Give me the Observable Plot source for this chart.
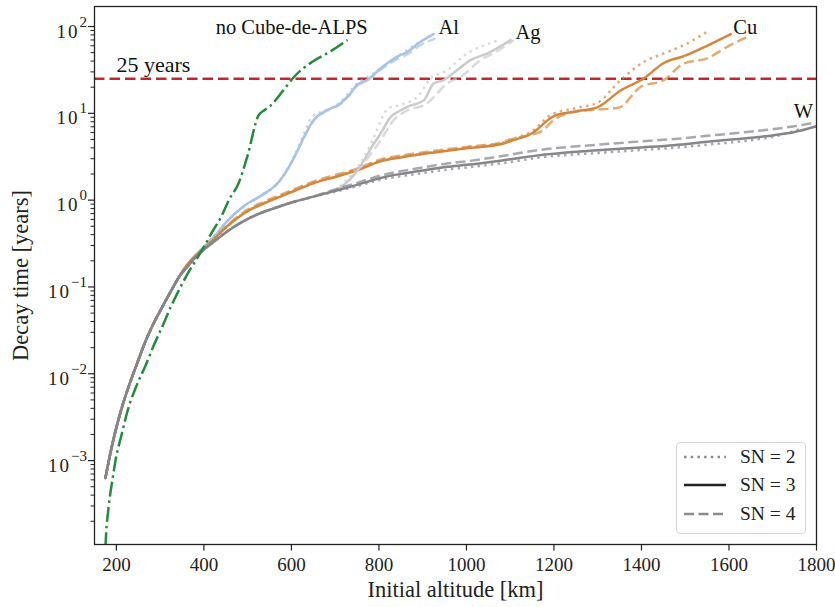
<!DOCTYPE html>
<html><head><meta charset="utf-8">
<script src="https://cdn.jsdelivr.net/npm/d3@7"></script>
<script src="https://cdn.jsdelivr.net/npm/@observablehq/plot@0.6"></script>
<style>
html,body{margin:0;padding:0;background:#fff;}
#wrap{position:relative;width:835px;height:607px;font-family:"Liberation Serif","Times New Roman",serif;}
#legend{position:absolute;left:676px;top:442px;width:128px;height:90px;border:1px solid #d6d6d6;border-radius:4px;background:rgba(255,255,255,0.85);}
.row{position:absolute;left:0;height:28px;width:100%;}
.row svg{position:absolute;left:6px;top:0;}
.row span{position:absolute;left:63px;top:0;font-size:19.5px;color:#222;line-height:28px;white-space:nowrap;}
</style></head>
<body><div id="wrap"></div>
<script>
// ---------- data (altitude km, decay time years) ----------
const lowBase = [[175,6.3e-4],[186,1.2e-3],[198,2.2e-3],[212,4.0e-3],[228,7.1e-3],[247,1.3e-2],[267,2.4e-2],[285,3.8e-2],[305,5.9e-2],[325,9.0e-2],[343,0.13]];

const W_mid = [[362,0.17],[381,0.22],[400,0.27],[419,0.32],[457,0.45],[495,0.59],[533,0.72],[571,0.84],[610,0.97],[648,1.09]];
const W_SN3 = [[700,1.28],[750,1.5],[804,1.8],[849,2.0],[900,2.2],[956,2.42],[1000,2.55],[1078,2.85],[1169,3.3],[1300,3.75],[1400,4.05],[1474,4.3],[1550,4.7],[1627,5.1],[1703,5.6],[1750,6.1],[1800,7.1]];
const W_SN4 = [[700,1.33],[750,1.58],[804,1.92],[849,2.15],[900,2.38],[956,2.65],[1000,2.8],[1078,3.2],[1169,3.8],[1300,4.35],[1400,4.75],[1474,5.05],[1550,5.5],[1627,6.0],[1703,6.6],[1750,7.1],[1790,7.7]];
const W_SN2 = [[700,1.25],[750,1.45],[804,1.72],[849,1.88],[900,2.05],[956,2.25],[1000,2.38],[1078,2.65],[1169,3.1],[1300,3.5],[1400,3.78],[1474,4.0],[1550,4.35],[1627,4.75],[1703,5.4],[1760,6.5]];

const Cu_SN3 = [[362,0.18],[381,0.23],[404,0.29],[419,0.34],[457,0.52],[495,0.72],[540,0.93],[575,1.1],[610,1.3],[648,1.55],[700,1.85],[750,2.2],[804,2.8],[849,3.1],[900,3.4],[956,3.7],[1000,3.95],[1078,4.4],[1101,4.8],[1150,5.9],[1200,9.3],[1250,10.5],[1299,11.7],[1352,18.3],[1405,25.2],[1451,38],[1497,45.6],[1550,60],[1604,81.7]];
const Cu_SN4 = [[362,0.18],[381,0.23],[404,0.29],[419,0.34],[457,0.53],[495,0.75],[540,0.97],[575,1.15],[610,1.36],[648,1.62],[700,1.95],[750,2.3],[804,2.95],[849,3.25],[900,3.55],[956,3.85],[1000,4.1],[1078,4.6],[1101,5.0],[1150,5.7],[1169,6.1],[1200,8.4],[1246,10.4],[1349,11.7],[1398,20.2],[1451,24.1],[1497,37.6],[1550,42.9],[1596,58.3],[1642,76]];
const Cu_SN2 = [[362,0.18],[381,0.23],[404,0.29],[419,0.34],[457,0.52],[495,0.73],[540,0.94],[575,1.12],[610,1.32],[648,1.57],[700,1.88],[750,2.25],[804,2.85],[849,3.15],[900,3.45],[956,3.75],[1000,4.0],[1078,4.5],[1101,5.0],[1150,6.2],[1192,9.5],[1250,11.5],[1299,13.2],[1352,24],[1405,39],[1451,49],[1497,61],[1550,87]];

const Al_SN3 = [[362,0.18],[381,0.23],[400,0.29],[419,0.36],[457,0.6],[495,0.88],[530,1.12],[571,1.62],[600,2.7],[615,3.8],[630,5.5],[651,8.4],[674,10.4],[712,13],[735,17],[750,21.1],[773,24.1],[804,32.9],[842,44.9],[865,51.1],[895,66.6],[925,81.7]];
const Al_SN2 = [[362,0.18],[381,0.23],[400,0.29],[419,0.36],[457,0.6],[495,0.88],[530,1.12],[571,1.62],[600,2.75],[615,4.0],[630,6.0],[642,8.3],[652,9.6],[667,10.3],[682,11],[712,13.5],[750,22],[773,26],[804,33],[842,45],[880,60],[920,80]];
const Al_SN4 = [[362,0.18],[381,0.23],[400,0.29],[419,0.36],[457,0.6],[495,0.88],[530,1.12],[571,1.62],[600,2.7],[615,3.8],[630,5.4],[651,8.2],[674,10.2],[712,12.8],[735,16.8],[750,20.8],[773,24],[804,32],[842,42],[865,48],[895,61],[929,73]];

const Ag_SN3 = [[700,1.28],[712,1.4],[745,2.0],[766,2.89],[785,4.2],[804,5.86],[827,9.1],[845,10.5],[865,11.9],[903,14.2],[925,22.1],[948,24.1],[979,31.5],[1009,41],[1048,49],[1101,69.7]];
const Ag_SN2 = [[700,1.28],[712,1.45],[745,2.2],[766,3.1],[790,5.5],[810,9.5],[822,11.5],[850,12.5],[890,16],[918,25.2],[950,30],[1002,49],[1063,66.6],[1075,70]];
const Ag_SN4 = [[700,1.28],[712,1.4],[766,2.7],[804,4.9],[834,8.4],[860,10.5],[910,13],[956,22.1],[990,27],[1032,41],[1070,52],[1108,69.7]];

const noCube = [[175,1.0e-4],[177,1.6e-4],[180,2.3e-4],[185,3.8e-4],[191,6.0e-4],[198,1.0e-3],[212,2.0e-3],[226,3.8e-3],[247,7.5e-3],[267,1.25e-2],[285,2.1e-2],[305,3.5e-2],[325,6.0e-2],[343,9.2e-2],[362,0.14],[381,0.2],[400,0.29],[419,0.43],[440,0.65],[457,1.0],[480,1.6],[499,3.15],[525,9.5],[540,11],[552,12.2],[580,18],[605,26],[647,39],[690,52],[728,70]];

const limitYears = [25];
const xTicks = [200,400,600,800,1000,1200,1400,1600,1800];
const yTicks = [1e-3,1e-2,1e-1,1,10,100];
const snLabels = ["SN = 2","SN = 3","SN = 4"];
const annotations = [
  {label:"no Cube-de-ALPS", x:427, y:98},
  {label:"Al", x:936, y:98},
  {label:"Ag", x:1112, y:86},
  {label:"Cu", x:1610, y:98},
  {label:"W", x:1748, y:10.6}
];
const limitLabel = [{label:"25 years", x:200, y:36}];

// ---------- styles ----------
const FONT = '"Liberation Serif", "Times New Roman", serif';
const colors = {Al:"#a9c3e2", Ag:"#cbcbcb", Cu:"#d4873c", W:"#85858a", none:"#238b3c", limit:"#c1272d"};
const dashes = {2:"2.5,4.2", 3:null, 4:"10,4.5"};
const opac = {2:0.7, 3:1, 4:0.7};

const series = [
  {m:"Al", sn:2, pts: lowBase.concat(Al_SN2)},
  {m:"Al", sn:3, pts: lowBase.concat(Al_SN3)},
  {m:"Al", sn:4, pts: lowBase.concat(Al_SN4)},
  {m:"Cu", sn:2, pts: lowBase.concat(Cu_SN2)},
  {m:"Cu", sn:3, pts: lowBase.concat(Cu_SN3)},
  {m:"Cu", sn:4, pts: lowBase.concat(Cu_SN4)},
  {m:"Ag", sn:2, pts: Ag_SN2},
  {m:"Ag", sn:3, pts: Ag_SN3},
  {m:"Ag", sn:4, pts: Ag_SN4},
  {m:"W", sn:2, pts: lowBase.concat(W_mid, W_SN2)},
  {m:"W", sn:3, pts: lowBase.concat(W_mid, W_SN3)},
  {m:"W", sn:4, pts: lowBase.concat(W_mid, W_SN4)}
];

const lineMarks = series.map(s => Plot.line(s.pts.map(([x,y]) => ({x,y})), {
  x:"x", y:"y", stroke: colors[s.m], strokeWidth: 2.5, strokeOpacity: opac[s.sn],
  strokeDasharray: dashes[s.sn] ?? undefined, strokeLinecap: s.sn === 3 ? "round" : "butt",
  curve: "monotone-x", clip: true
}));

const yMinor = [];
for (let e = -4; e <= 2; e++) for (let k = 2; k <= 9; k++) { const v = k * Math.pow(10, e); if (v > 1.08e-4 && v < 170) yMinor.push(v); }

const chart = Plot.plot({
  width: 835, height: 607,
  marginLeft: 94, marginRight: 19, marginTop: 6, marginBottom: 63,
  style: {fontFamily: FONT, fontSize: "19px", background: "white", color: "#222", overflow: "visible"},
  x: {domain: [150, 1800]},
  y: {type: "log", domain: [1.08e-4, 170]},
  marks: [
    Plot.axisX({ticks: xTicks, tickSize: 6.5, tickPadding: 6, tickFormat: d => String(d), fontSize: 19, strokeWidth: 1.2,
      label: "Initial altitude [km]", labelAnchor: "center", labelArrow: "none", labelOffset: 52}),
    Plot.axisY({ticks: yMinor, tickSize: 3.5, tickFormat: () => "", label: null}),
    Plot.axisY({ticks: yTicks, tickSize: 6, tickPadding: 1.5, fontSize: 19, strokeWidth: 1.2,
      tickFormat: d => "10^" + String(Math.round(Math.log10(d))).replace("-", "−"),
      label: "Decay time [years]", labelAnchor: "center", labelArrow: "none", labelOffset: 82}),
    Plot.ruleY(limitYears, {stroke: colors.limit, strokeWidth: 2.5, strokeDasharray: "10.5,5"}),
    ...lineMarks,
    Plot.line(noCube.map(([x,y]) => ({x,y})), {x:"x", y:"y", stroke: colors.none, strokeWidth: 2.5,
      strokeDasharray: "15,4,2.5,4", strokeLinecap: "butt", curve: "monotone-x", clip: true}),
    Plot.text(annotations, {x:"x", y:"y", text:"label", textAnchor:"start", fontSize: 20.5, fill: "#111"}),
    Plot.text(limitLabel, {x:"x", y:"y", text:"label", textAnchor:"start", fontSize: 22, fill: "#111"}),
    Plot.frame({stroke: "#222", strokeWidth: 1.3})
  ]
});

// superscript exponents on y tick labels
const NS = "http://www.w3.org/2000/svg";
chart.querySelectorAll('g[aria-label="y-axis tick label"] text').forEach(t => {
  const m = t.textContent.match(/^10\^(.+)$/);
  if (!m) return;
  t.textContent = "";
  const a = document.createElementNS(NS, "tspan"); a.textContent = "10";
  a.setAttribute("letter-spacing", "2"); a.setAttribute("dy", "5");
  const b = document.createElementNS(NS, "tspan"); b.textContent = m[1];
  b.setAttribute("font-size", "15"); b.setAttribute("dy", "-11");
  t.appendChild(a); t.appendChild(b);
});
chart.querySelectorAll('g[aria-label="x-axis label"], g[aria-label="y-axis label"]').forEach(g => g.setAttribute("font-size", "22.5"));

const wrap = document.getElementById("wrap");
wrap.appendChild(chart);

// legend (overlay inside the axes, lower right)
const legend = document.createElement("div");
legend.id = "legend";
const legStyles = [
  {stroke:"#8c8c8c", dash:"2.5,4.2", cap:"butt"},
  {stroke:"#222222", dash:null, cap:"butt"},
  {stroke:"#8c8c8c", dash:"10,4.5", cap:"butt"}
];
snLabels.forEach((lab, i) => {
  const row = document.createElement("div");
  row.className = "row";
  row.style.top = (i * 28.3) + "px";
  const st = legStyles[i];
  row.innerHTML = `<svg width="44" height="28"><line x1="1" x2="43" y1="14" y2="14" stroke="${st.stroke}" stroke-width="2.5" ${st.dash ? `stroke-dasharray="${st.dash}"` : ""} stroke-linecap="${st.cap}"/></svg><span>${lab}</span>`;
  legend.appendChild(row);
});
wrap.appendChild(legend);
</script></body></html>
